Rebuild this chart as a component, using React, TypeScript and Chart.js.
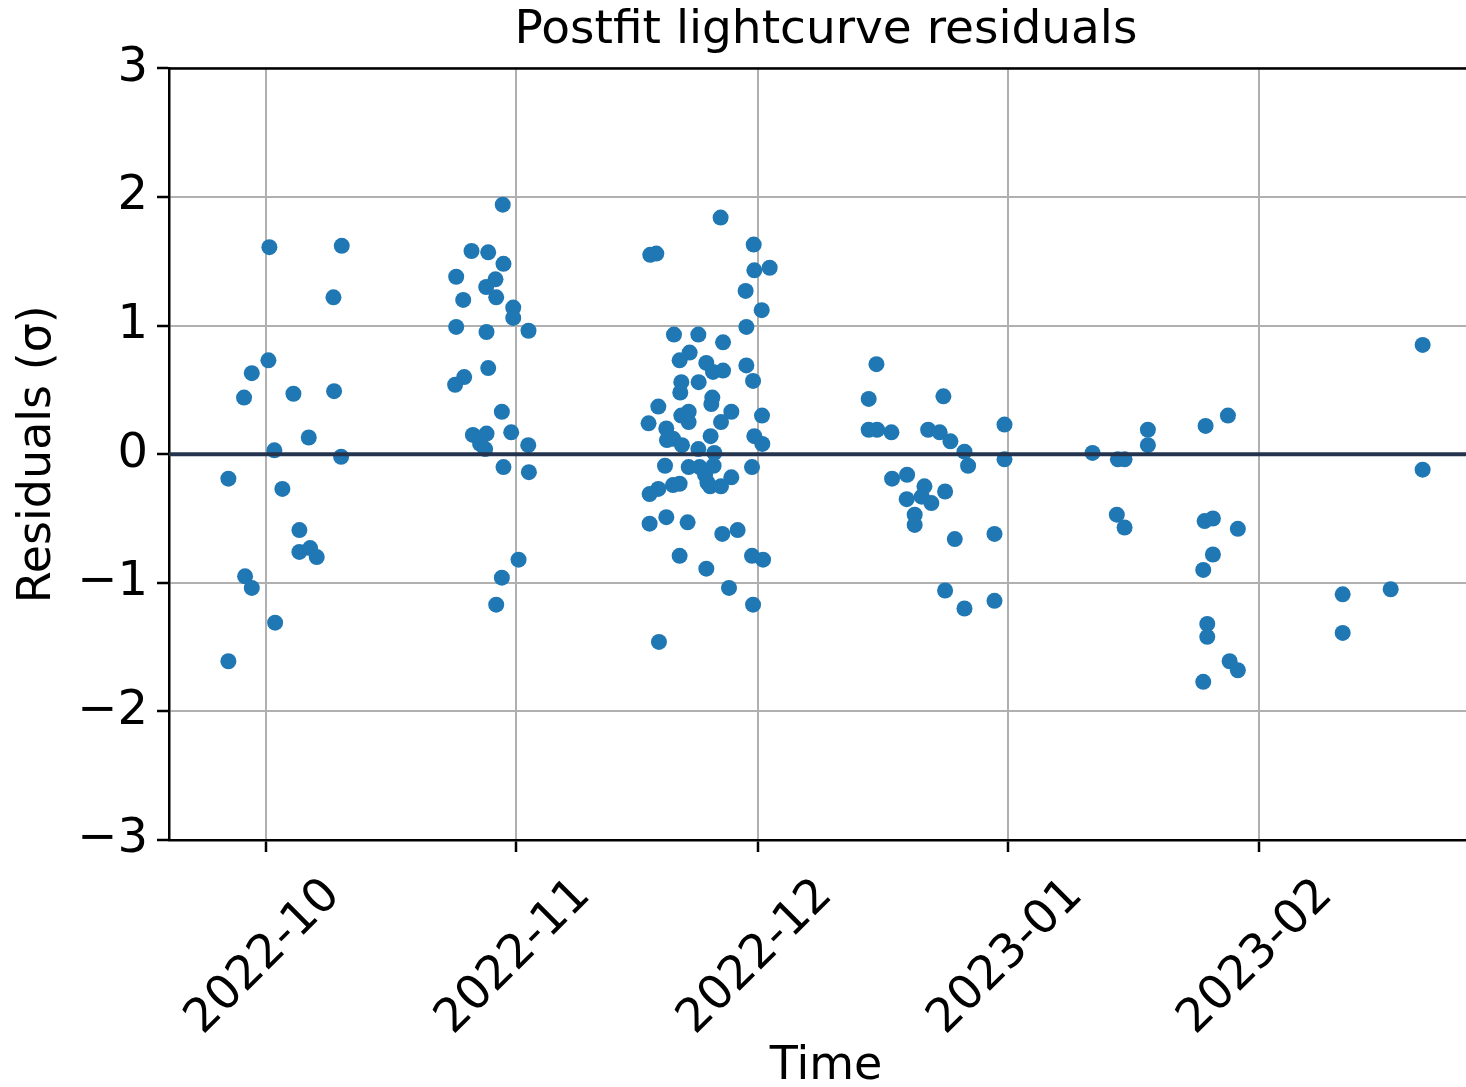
import { useEffect, useRef } from "react";
import { Chart, registerables } from "chart.js";

Chart.register(...registerables);

const chartTitle = "Postfit lightcurve residuals";
const xAxisTitle = "Time";
const yAxisTitle = "Residuals (σ)";

// x values are days since 2022-10-01 00:00
const monthTickDays = [0, 31, 61, 92, 123];
const monthTickLabels = ["2022-10", "2022-11", "2022-12", "2023-01", "2023-02"];

const xRange = [-12.03, 150.81];
const yRange = [-3, 3];
const zeroLevel = 0;

const dayOffsets = [
  -4.67, -4.67, -2.73, -2.6, -1.77, -1.77, 0.41, 0.29, 1.03, 1.12, 2.02, 3.39, 4.13, 4.13, 5.46, 6.28, 5.29, 8.35, 8.43, 9.38, 9.3,
  29.33, 25.46, 27.53, 29.42, 23.56, 28.43, 27.28, 28.52, 24.43, 30.63, 30.63, 23.56, 27.32, 32.52, 27.53, 24.55, 23.43, 29.22, 30.38, 25.63, 27.32, 26.53, 27.15, 32.49, 29.42, 32.57, 31.29, 29.22, 28.52,
  56.33, 60.43, 47.61, 48.36, 60.51, 62.41, 59.43, 61.42, 59.52, 50.55, 53.57, 56.63, 52.49, 51.25, 54.56, 55.39, 56.63, 59.52, 60.35, 51.46, 53.61, 51.33, 55.3, 55.18, 48.61, 52.37, 51.46, 52.37, 57.66, 56.38, 61.46, 47.4, 49.6, 55.09, 60.51, 61.5, 49.68, 50.43, 51.54, 53.57, 55.55, 49.44, 52.37, 53.73, 55.46, 60.22, 54.4, 57.66, 54.69, 55.03, 56.38, 50.43, 51.25, 48.61, 47.53, 47.53, 49.6, 52.24, 56.54, 58.44, 51.25, 60.22, 61.59, 54.56, 57.37, 60.35, 48.69,
  75.64, 74.68, 83.94, 91.51, 74.68, 75.72, 77.5, 82.05, 83.48, 84.81, 86.55, 87.0, 91.51, 77.58, 79.44, 81.59, 79.39, 81.25, 82.45, 84.15, 80.38, 80.38, 85.35, 90.27, 84.15, 86.55, 90.27,
  102.42, 105.56, 106.39, 109.28, 109.28, 116.43, 119.2, 105.43, 106.39, 116.31, 117.34, 120.43, 117.34, 116.14, 116.64, 116.64, 119.41, 120.43, 116.14,
  143.33, 143.33, 133.42, 139.37, 133.42,
];

const residuals = [
  -0.19, -1.61, 0.44, -0.95, -1.04, 0.63, 1.61, 0.73, 0.03, -1.31, -0.27, 0.47, -0.59, -0.76, -0.73, -0.8, 0.13, 1.22, 0.49, 1.62, -0.02,
  1.94, 1.58, 1.57, 1.48, 1.38, 1.36, 1.3, 1.22, 1.2, 1.14, 1.06, 0.99, 0.95, 0.96, 0.67, 0.6, 0.54, 0.33, 0.17, 0.15, 0.16, 0.08, 0.04, 0.07, -0.1, -0.14, -0.82, -0.96, -1.17,
  1.84, 1.63, 1.55, 1.56, 1.43, 1.45, 1.27, 1.12, 0.99, 0.93, 0.93, 0.87, 0.79, 0.73, 0.71, 0.64, 0.65, 0.69, 0.57, 0.56, 0.56, 0.48, 0.44, 0.39, 0.37, 0.33, 0.3, 0.25, 0.33, 0.25, 0.3, 0.24, 0.2, 0.14, 0.14, 0.08, 0.11, 0.12, 0.07, 0.04, 0.01, -0.09, -0.1, -0.1, -0.09, -0.1, -0.16, -0.18, -0.22, -0.25, -0.25, -0.24, -0.23, -0.27, -0.31, -0.54, -0.49, -0.53, -0.62, -0.59, -0.79, -0.79, -0.82, -0.89, -1.04, -1.17, -1.46,
  0.7, 0.43, 0.45, 0.23, 0.19, 0.19, 0.17, 0.19, 0.17, 0.1, 0.02, -0.09, -0.04, -0.19, -0.16, -0.25, -0.35, -0.33, -0.38, -0.29, -0.47, -0.55, -0.66, -0.62, -1.06, -1.2, -1.14,
  0.01, -0.04, -0.04, 0.19, 0.07, 0.22, 0.3, -0.47, -0.57, -0.52, -0.5, -0.58, -0.78, -0.9, -1.32, -1.42, -1.61, -1.68, -1.77,
  0.85, -0.12, -1.09, -1.05, -1.39,
];

const CANVAS_W = 1491;
const CANVAS_H = 1100;

const spinePlugin = {
  id: "spines",
  afterDatasetsDraw(chart: any) {
    const { ctx, chartArea } = chart;
    ctx.save();
    ctx.strokeStyle = "#000000";
    ctx.lineWidth = 2.5;
    ctx.beginPath();
    ctx.moveTo(chartArea.left, chartArea.top);
    ctx.lineTo(chartArea.right, chartArea.top);
    ctx.lineTo(chartArea.right, chartArea.bottom);
    ctx.stroke();
    ctx.restore();
  },
};

export default function App() {
  const canvasRef = useRef<HTMLCanvasElement | null>(null);

  useEffect(() => {
    if (!canvasRef.current) return;
    Chart.defaults.font.family = "'DejaVu Sans', sans-serif";
    Chart.defaults.color = "#000000";

    const points = dayOffsets.map((d, i) => ({ x: d, y: residuals[i] }));

    const chart = new Chart(canvasRef.current, {
      type: "scatter",
      data: {
        datasets: [
          {
            type: "line",
            data: [
              { x: xRange[0], y: zeroLevel },
              { x: xRange[1], y: zeroLevel },
            ],
            borderColor: "#24344f",
            borderWidth: 4,
            pointRadius: 0,
            fill: false,
          } as any,
          {
            type: "scatter",
            data: points,
            backgroundColor: "#1f77b4",
            borderWidth: 0,
            pointRadius: 8,
            pointHoverRadius: 8,
          },
        ],
      },
      options: {
        responsive: false,
        devicePixelRatio: 1,
        animation: false,
        events: [],
        layout: { padding: 0 },
        plugins: {
          legend: { display: false },
          tooltip: { enabled: false },
          title: {
            display: true,
            text: chartTitle,
            fullSize: false,
            color: "#000000",
            font: { size: 47, weight: "normal" },
            padding: { top: 3, bottom: 9 },
          },
        },
        scales: {
          x: {
            type: "linear",
            position: "bottom",
            min: xRange[0],
            max: xRange[1],
            afterBuildTicks: (axis: any) => {
              axis.ticks = monthTickDays.map((v) => ({ value: v }));
            },
            afterFit: (axis: any) => {
              axis.height = CANVAS_H - 840;
            },
            ticks: {
              autoSkip: false,
              minRotation: 45,
              maxRotation: 45,
              labelOffset: 67,
              padding: 16,
              color: "#000000",
              font: { size: 47 },
              callback: (_v: any, i: number) => monthTickLabels[i],
            },
            grid: {
              color: "#b0b0b0",
              lineWidth: 2,
              tickColor: "#000000",
              tickLength: 12,
              tickWidth: 2.5,
            },
            border: { display: true, color: "#000000", width: 2.5 },
            title: {
              display: true,
              text: xAxisTitle,
              color: "#000000",
              font: { size: 46 },
              padding: { top: 0, bottom: 5 },
            },
          },
          y: {
            type: "linear",
            min: yRange[0],
            max: yRange[1],
            afterFit: (axis: any) => {
              axis.width = 169;
            },
            ticks: {
              stepSize: 1,
              padding: 9,
              color: "#000000",
              font: { size: 48 },
              callback: (v: any) => (Number(v) < 0 ? "\u2212" + Math.abs(Number(v)) : String(v)),
            },
            grid: {
              color: "#b0b0b0",
              lineWidth: 2,
              tickColor: "#000000",
              tickLength: 12,
              tickWidth: 2.5,
            },
            border: { display: true, color: "#000000", width: 2.5 },
            title: {
              display: true,
              text: yAxisTitle,
              color: "#000000",
              font: { size: 46 },
              padding: { top: 10, bottom: 0 },
            },
          },
        },
      },
      plugins: [spinePlugin],
    });

    return () => chart.destroy();
  }, []);

  return (
    <div
      style={{
        position: "fixed",
        left: 0,
        top: 0,
        width: 1466,
        height: 1087,
        overflow: "hidden",
        background: "#ffffff",
      }}
    >
      <canvas
        ref={canvasRef}
        width={CANVAS_W}
        height={CANVAS_H}
        style={{ display: "block", width: CANVAS_W, height: CANVAS_H }}
      />
    </div>
  );
}
